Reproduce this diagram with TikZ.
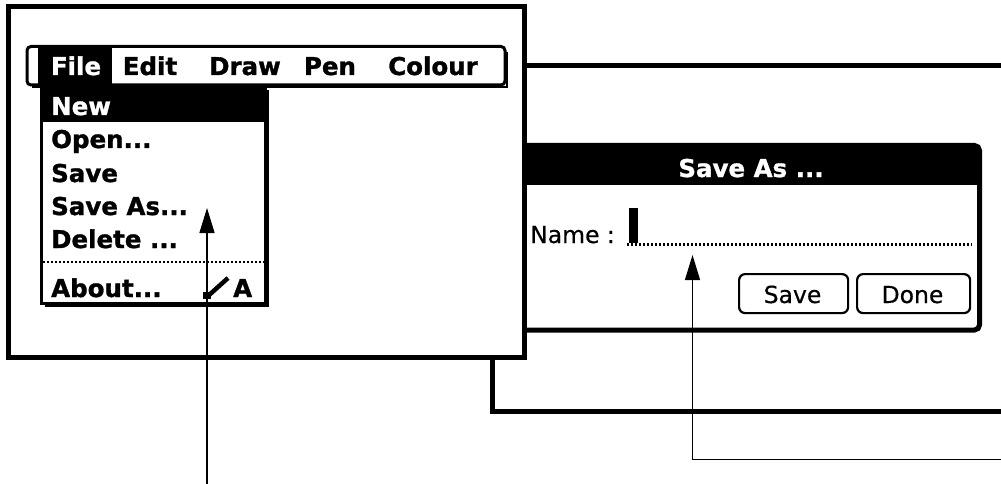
\documentclass[tikz,border=0pt]{standalone}
\usepackage{fontspec}
\setmainfont{DejaVu Sans}
\newfontfamily\palmbold{DejaVu Sans Bold}[FakeBold=1.2]
\newfontfamily\palmreg{DejaVu Sans}[FakeBold=0.4]
\usetikzlibrary{arrows.meta}
\tikzset{
  frame/.style={line width=5pt, line cap=rect},
  boldtxt/.style={font=\fontsize{24.5}{24.5}\palmbold, inner sep=0pt},
  regtxt/.style={font=\fontsize{23.5}{23.5}\palmreg, inner sep=0pt},
  dots/.style={line width=2.5pt, dash pattern=on 2pt off 2pt},
  btn/.style={draw, line width=2.2pt, rounded corners=6pt},
  pointer/.style={line width=1.3pt, -{Triangle[length=25pt,width=15pt]}},
  leader/.style={line width=1.3pt}
}
\begin{document}
\begin{tikzpicture}[x=1pt,y=-1pt]
\useasboundingbox (0,0) rectangle (1001,484);
% right (background) window
\draw[frame] (1010,65.5) -- (492.5,65.5) -- (492.5,411) -- (1010,411);
% Save As dialog
\draw[line width=5pt, fill=white, rounded corners=5pt] (490,145.5) rectangle (979.5,330);
\begin{scope}
  \clip[rounded corners=5pt] (490,145) rectangle (979.5,330);
  \fill[black] (488,140) rectangle (985,185);
\end{scope}
\node[boldtxt, text=white, anchor=base] (title) at (751,177) {Save As ...};
\node[regtxt, anchor=base west] (name) at (530,243) {Name :};
\fill (629,208) rectangle (638,243);
\draw[dots] (627,244.5) -- (972,244.5);
\node[btn, minimum width=109pt, minimum height=39pt, anchor=north west] (savebtn) at (738,273) {};
\node[regtxt, anchor=base] at (792.5,303) {Save};
\node[btn, minimum width=113pt, minimum height=39pt, anchor=north west] (donebtn) at (856,273) {};
\node[regtxt, anchor=base] at (912.5,303) {Done};
% left (front) window
\draw[frame, fill=white] (8,6.5) rectangle (524.5,357.5);
% menu bar
\draw[line width=3pt, fill=white, rounded corners=4pt] (27,46.5) rectangle (505,85);
\draw[line width=2.5pt] (507,52) -- (507,87) -- (32,87);
\fill[black] (38,46) rectangle (112,86);
\node[boldtxt, text=white, anchor=base] (file) at (76,75) {File};
\node[boldtxt, anchor=base] (edit) at (150,75) {Edit};
\node[boldtxt, anchor=base] (draw) at (245,75) {Draw};
\node[boldtxt, anchor=base] (pen) at (330,75) {Pen};
\node[boldtxt, anchor=base] (colour) at (433,75) {Colour};
% drop-down menu
\draw[line width=3pt, fill=white] (41.5,86) -- (41.5,303) -- (265,303) -- (265,86);
\draw[line width=3pt] (267.5,90) -- (267.5,305.5) -- (45,305.5);
\fill[black] (40,85) rectangle (266.5,122);
\node[boldtxt, text=white, anchor=base west] (new) at (51,115) {New};
\node[boldtxt, anchor=base west] (open) at (51,148) {Open...};
\node[boldtxt, anchor=base west] (save) at (51,182) {Save};
\node[boldtxt, anchor=base west] (saveas) at (51,215) {Save As...};
\node[boldtxt, anchor=base west] (delete) at (51,248) {Delete ...};
\draw[dots] (43,262) -- (264,262);
\node[boldtxt, anchor=base west] (about) at (51,297) {About...};
\draw[line width=4.5pt] (208,296) -- (228,278);
\fill (203,292) rectangle (211,298.5);
\node[boldtxt, anchor=base west] (cmdA) at (233,297) {A};
% pointers
\coordinate (p1tip) at (207,208);
\coordinate (p1end) at (207,486);
\draw[pointer] (p1end) -- (p1tip);
\coordinate (p2tip) at (692.5,255);
\coordinate (p2corner) at (692.5,459.5);
\coordinate (p2end) at (1003,459.5);
\draw[leader] (p2end) -- (p2corner);
\draw[pointer] (p2corner) -- (p2tip);
\end{tikzpicture}
\end{document}
